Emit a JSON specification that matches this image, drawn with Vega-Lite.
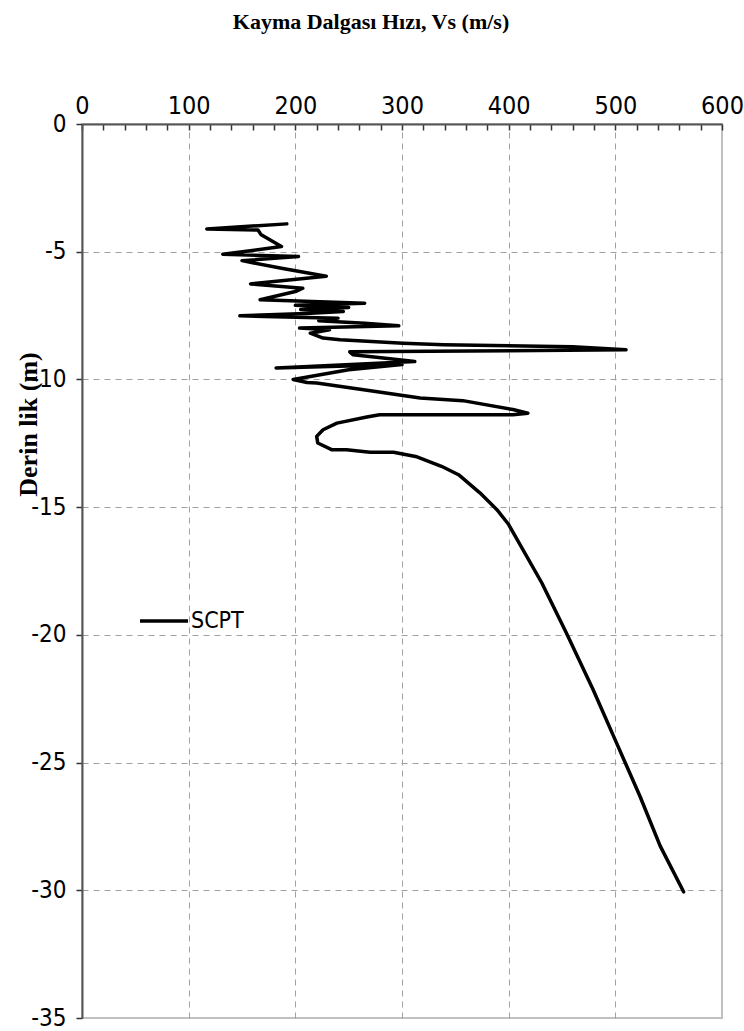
{
  "$schema": "https://vega.github.io/schema/vega-lite/v6.json",
  "width": 640,
  "height": 894,
  "autosize": "none",
  "padding": {"left": 82, "top": 124, "right": 22, "bottom": 13},
  "background": "white",
  "config": {
    "view": {"stroke": "#c0c0c0", "strokeWidth": 2},
    "legend": {"padding": 0}
  },
  "title": {
    "text": "Kayma Dalgası Hızı, Vs (m/s)",
    "font": "Liberation Serif",
    "fontSize": 22,
    "fontWeight": "bold",
    "color": "black",
    "anchor": "middle",
    "dx": -31,
    "offset": 59
  },
  "data": {
    "values": [
      {"i": 1, "vs": 192, "d": -3.91, "s": "SCPT"},
      {"i": 2, "vs": 117, "d": -4.11, "s": "SCPT"},
      {"i": 3, "vs": 165, "d": -4.15, "s": "SCPT"},
      {"i": 4, "vs": 168, "d": -4.34, "s": "SCPT"},
      {"i": 5, "vs": 187, "d": -4.80, "s": "SCPT"},
      {"i": 6, "vs": 132, "d": -5.10, "s": "SCPT"},
      {"i": 7, "vs": 203, "d": -5.19, "s": "SCPT"},
      {"i": 8, "vs": 150, "d": -5.35, "s": "SCPT"},
      {"i": 9, "vs": 187, "d": -5.65, "s": "SCPT"},
      {"i": 10, "vs": 229, "d": -5.96, "s": "SCPT"},
      {"i": 11, "vs": 158, "d": -6.26, "s": "SCPT"},
      {"i": 12, "vs": 207, "d": -6.43, "s": "SCPT"},
      {"i": 13, "vs": 200, "d": -6.56, "s": "SCPT"},
      {"i": 14, "vs": 167, "d": -6.88, "s": "SCPT"},
      {"i": 15, "vs": 265, "d": -7.02, "s": "SCPT"},
      {"i": 16, "vs": 200, "d": -7.10, "s": "SCPT"},
      {"i": 17, "vs": 250, "d": -7.18, "s": "SCPT"},
      {"i": 18, "vs": 205, "d": -7.26, "s": "SCPT"},
      {"i": 19, "vs": 245, "d": -7.34, "s": "SCPT"},
      {"i": 20, "vs": 210, "d": -7.42, "s": "SCPT"},
      {"i": 21, "vs": 148, "d": -7.51, "s": "SCPT"},
      {"i": 22, "vs": 240, "d": -7.60, "s": "SCPT"},
      {"i": 23, "vs": 222, "d": -7.70, "s": "SCPT"},
      {"i": 24, "vs": 265, "d": -7.80, "s": "SCPT"},
      {"i": 25, "vs": 297, "d": -7.90, "s": "SCPT"},
      {"i": 26, "vs": 204, "d": -7.99, "s": "SCPT"},
      {"i": 27, "vs": 232, "d": -8.06, "s": "SCPT"},
      {"i": 28, "vs": 214, "d": -8.19, "s": "SCPT"},
      {"i": 29, "vs": 226, "d": -8.38, "s": "SCPT"},
      {"i": 30, "vs": 242, "d": -8.45, "s": "SCPT"},
      {"i": 31, "vs": 301, "d": -8.58, "s": "SCPT"},
      {"i": 32, "vs": 339, "d": -8.64, "s": "SCPT"},
      {"i": 33, "vs": 460, "d": -8.72, "s": "SCPT"},
      {"i": 34, "vs": 510, "d": -8.84, "s": "SCPT"},
      {"i": 35, "vs": 251, "d": -8.92, "s": "SCPT"},
      {"i": 36, "vs": 254, "d": -9.03, "s": "SCPT"},
      {"i": 37, "vs": 276, "d": -9.13, "s": "SCPT"},
      {"i": 38, "vs": 312, "d": -9.30, "s": "SCPT"},
      {"i": 39, "vs": 182, "d": -9.55, "s": "SCPT"},
      {"i": 40, "vs": 300, "d": -9.42, "s": "SCPT"},
      {"i": 41, "vs": 250, "d": -9.62, "s": "SCPT"},
      {"i": 42, "vs": 198, "d": -10.00, "s": "SCPT"},
      {"i": 43, "vs": 211, "d": -10.12, "s": "SCPT"},
      {"i": 44, "vs": 220, "d": -10.14, "s": "SCPT"},
      {"i": 45, "vs": 264, "d": -10.40, "s": "SCPT"},
      {"i": 46, "vs": 317, "d": -10.73, "s": "SCPT"},
      {"i": 47, "vs": 357, "d": -10.83, "s": "SCPT"},
      {"i": 48, "vs": 404, "d": -11.18, "s": "SCPT"},
      {"i": 49, "vs": 418, "d": -11.32, "s": "SCPT"},
      {"i": 50, "vs": 404, "d": -11.38, "s": "SCPT"},
      {"i": 51, "vs": 279, "d": -11.38, "s": "SCPT"},
      {"i": 52, "vs": 267, "d": -11.47, "s": "SCPT"},
      {"i": 53, "vs": 239, "d": -11.71, "s": "SCPT"},
      {"i": 54, "vs": 226, "d": -11.97, "s": "SCPT"},
      {"i": 55, "vs": 220, "d": -12.23, "s": "SCPT"},
      {"i": 56, "vs": 221, "d": -12.49, "s": "SCPT"},
      {"i": 57, "vs": 234, "d": -12.75, "s": "SCPT"},
      {"i": 58, "vs": 248, "d": -12.75, "s": "SCPT"},
      {"i": 59, "vs": 270, "d": -12.85, "s": "SCPT"},
      {"i": 60, "vs": 292, "d": -12.85, "s": "SCPT"},
      {"i": 61, "vs": 314, "d": -13.03, "s": "SCPT"},
      {"i": 62, "vs": 337, "d": -13.40, "s": "SCPT"},
      {"i": 63, "vs": 353, "d": -13.73, "s": "SCPT"},
      {"i": 64, "vs": 373, "d": -14.44, "s": "SCPT"},
      {"i": 65, "vs": 389, "d": -15.10, "s": "SCPT"},
      {"i": 66, "vs": 400, "d": -15.68, "s": "SCPT"},
      {"i": 67, "vs": 431, "d": -17.96, "s": "SCPT"},
      {"i": 68, "vs": 454, "d": -19.92, "s": "SCPT"},
      {"i": 69, "vs": 479, "d": -22.13, "s": "SCPT"},
      {"i": 70, "vs": 501, "d": -24.22, "s": "SCPT"},
      {"i": 71, "vs": 523, "d": -26.31, "s": "SCPT"},
      {"i": 72, "vs": 542, "d": -28.26, "s": "SCPT"},
      {"i": 73, "vs": 564, "d": -30.06, "s": "SCPT"}
    ]
  },
  "mark": {"type": "line", "strokeWidth": 3.5, "strokeJoin": "round", "strokeCap": "round"},
  "encoding": {
    "x": {
      "field": "vs",
      "type": "quantitative",
      "scale": {"domain": [0, 600], "nice": false, "zero": false},
      "axis": {
        "orient": "top",
        "title": null,
        "values": [0, 20, 40, 60, 80, 100, 120, 140, 160, 180, 200, 220, 240, 260, 280, 300, 320, 340, 360, 380, 400, 420, 440, 460, 480, 500, 520, 540, 560, 580, 600],
        "labelExpr": "datum.value % 100 === 0 ? datum.label : ''",
        "labelFont": "DejaVu Sans Condensed, sans-serif",
        "labelFontSize": 25,
        "labelColor": "black",
        "labelPadding": 12,
        "labelOverlap": false,
        "labelBound": false,
        "labelFlush": false,
        "grid": true,
        "gridColor": "#a0a0a0",
        "gridDash": [6, 5],
        "gridWidth": 1,
        "gridOpacity": {"condition": {"test": "datum.value % 100 === 0 && datum.value > 0 && datum.value < 600", "value": 1}, "value": 0},
        "domainColor": "#555555",
        "domainWidth": 2,
        "tickColor": "#333333",
        "tickWidth": 1.5,
        "tickSize": -6
      }
    },
    "y": {
      "field": "d",
      "type": "quantitative",
      "scale": {"domain": [-35, 0], "nice": false, "zero": false},
      "axis": {
        "values": [-35, -30, -25, -20, -15, -10, -5, 0],
        "labelExpr": "replace(datum.label, '−', '-')",
        "title": "Derin lik (m)",
        "titleFont": "Liberation Serif",
        "titleFontSize": 26,
        "titleFontWeight": "bold",
        "titleColor": "black",
        "titleAngle": -90,
        "titleAlign": "center",
        "titleBaseline": "alphabetic",
        "titleX": -46,
        "titleY": 300,
        "labelFont": "DejaVu Sans Condensed, sans-serif",
        "labelFontSize": 24,
        "labelColor": "black",
        "labelPadding": 10,
        "grid": true,
        "gridColor": "#a0a0a0",
        "gridDash": [6, 5],
        "gridWidth": 1,
        "gridOpacity": {"condition": {"test": "datum.value > -35 && datum.value < 0", "value": 1}, "value": 0},
        "domainColor": "#555555",
        "domainWidth": 2,
        "tickColor": "#333333",
        "tickWidth": 1.5,
        "tickSize": 6
      }
    },
    "order": {"field": "i", "type": "quantitative"},
    "color": {
      "field": "s",
      "type": "nominal",
      "scale": {"range": ["black"]},
      "legend": {
        "orient": "none",
        "legendX": 56,
        "legendY": 471,
        "title": null,
        "symbolType": "stroke",
        "symbolSize": 2304,
        "symbolStrokeWidth": 3.5,
        "symbolStrokeColor": "black",
        "labelFont": "DejaVu Sans Condensed, sans-serif",
        "labelFontSize": 23,
        "labelColor": "black",
        "labelOffset": 1
      }
    }
  }
}
